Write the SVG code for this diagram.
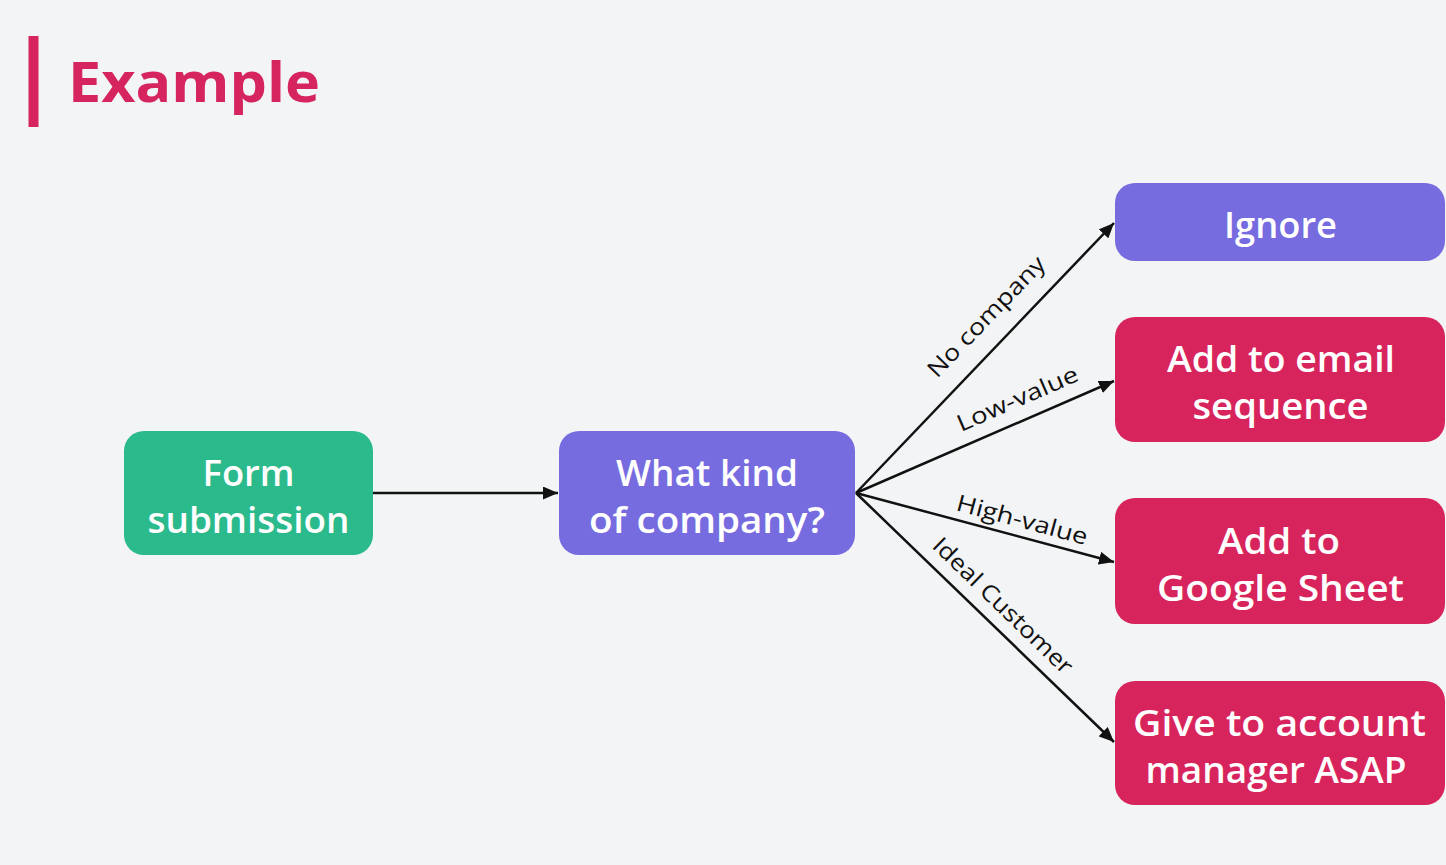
<svg xmlns="http://www.w3.org/2000/svg" width="1446" height="865" viewBox="0 0 1446 865">
  <style>
    .node-text { font-family: "Open Sans", "Liberation Sans", sans-serif; font-weight: 600; font-size: 36px; fill: #ffffff; text-anchor: middle; }
    .edge { stroke: #111111; stroke-width: 2.5; fill: none; marker-end: url(#arrow); }
    .edge-label { font-family: "Open Sans", "Liberation Sans", sans-serif; font-size: 23px; fill: #111111; }
    .green { fill: #2bba8b; }
    .purple { fill: #766bdf; }
    .pink { fill: #d8245c; }
  </style>
  <defs>
    <marker id="arrow" markerUnits="userSpaceOnUse" markerWidth="15" markerHeight="13" refX="15" refY="6.5" orient="auto">
      <path d="M0,0 L15,6.5 L0,13 z" fill="#111111"/>
    </marker>
  </defs>

  <rect width="1446" height="865" fill="#f3f4f5"/>

  <!-- Title -->
  <g id="title">
    <rect x="28.5" y="36" width="10" height="91" fill="#d6245f"/>
    <text x="68" y="102" font-family="'Open Sans', 'Liberation Sans', sans-serif" font-weight="700" font-size="56" fill="#d6245f" textLength="252" lengthAdjust="spacingAndGlyphs">Example</text>
  </g>

  <!-- Connectors -->
  <g id="connectors">
    <line class="edge" x1="373" y1="493" x2="558" y2="493"/>
    <line class="edge" x1="856" y1="493" x2="1114" y2="223"/>
    <line class="edge" x1="856" y1="493" x2="1114" y2="381"/>
    <line class="edge" x1="856" y1="493" x2="1114" y2="562"/>
    <line class="edge" x1="856" y1="493" x2="1114" y2="742"/>
    <text class="edge-label" transform="translate(937,379) rotate(-46)" textLength="158" lengthAdjust="spacingAndGlyphs">No company</text>
    <text class="edge-label" transform="translate(961,432) rotate(-23.5)" textLength="130" lengthAdjust="spacingAndGlyphs">Low-value</text>
    <text class="edge-label" transform="translate(955,510) rotate(15)" textLength="135" lengthAdjust="spacingAndGlyphs">High-value</text>
    <text class="edge-label" transform="translate(931,547) rotate(44.1)" textLength="185" lengthAdjust="spacingAndGlyphs">Ideal Customer</text>
  </g>

  <!-- Nodes -->
  <g id="form-submission">
    <rect class="green" x="124" y="431" width="249" height="124" rx="20"/>
    <text class="node-text" x="248.5" y="486" textLength="92" lengthAdjust="spacingAndGlyphs">Form</text>
    <text class="node-text" x="248.5" y="533" textLength="202" lengthAdjust="spacingAndGlyphs">submission</text>
  </g>

  <g id="company-kind">
    <rect class="purple" x="559" y="431" width="296" height="124" rx="20"/>
    <text class="node-text" x="707" y="486" textLength="182" lengthAdjust="spacingAndGlyphs">What kind</text>
    <text class="node-text" x="707" y="533" textLength="236" lengthAdjust="spacingAndGlyphs">of company?</text>
  </g>

  <g id="ignore">
    <rect class="purple" x="1115" y="183" width="330" height="78" rx="20"/>
    <text class="node-text" x="1280.5" y="238" textLength="113" lengthAdjust="spacingAndGlyphs">Ignore</text>
  </g>

  <g id="email-sequence">
    <rect class="pink" x="1115" y="317" width="330" height="125" rx="20"/>
    <text class="node-text" x="1281" y="372" textLength="228" lengthAdjust="spacingAndGlyphs">Add to email</text>
    <text class="node-text" x="1280.5" y="419" textLength="176" lengthAdjust="spacingAndGlyphs">sequence</text>
  </g>

  <g id="google-sheet">
    <rect class="pink" x="1115" y="498" width="330" height="126" rx="20"/>
    <text class="node-text" x="1279" y="554" textLength="122" lengthAdjust="spacingAndGlyphs">Add to</text>
    <text class="node-text" x="1280.5" y="601" textLength="247" lengthAdjust="spacingAndGlyphs">Google Sheet</text>
  </g>

  <g id="account-manager">
    <rect class="pink" x="1115" y="681" width="330" height="124" rx="20"/>
    <text class="node-text" x="1279.5" y="736" textLength="293" lengthAdjust="spacingAndGlyphs">Give to account</text>
    <text class="node-text" x="1276" y="783" textLength="261" lengthAdjust="spacingAndGlyphs">manager ASAP</text>
  </g>
</svg>
